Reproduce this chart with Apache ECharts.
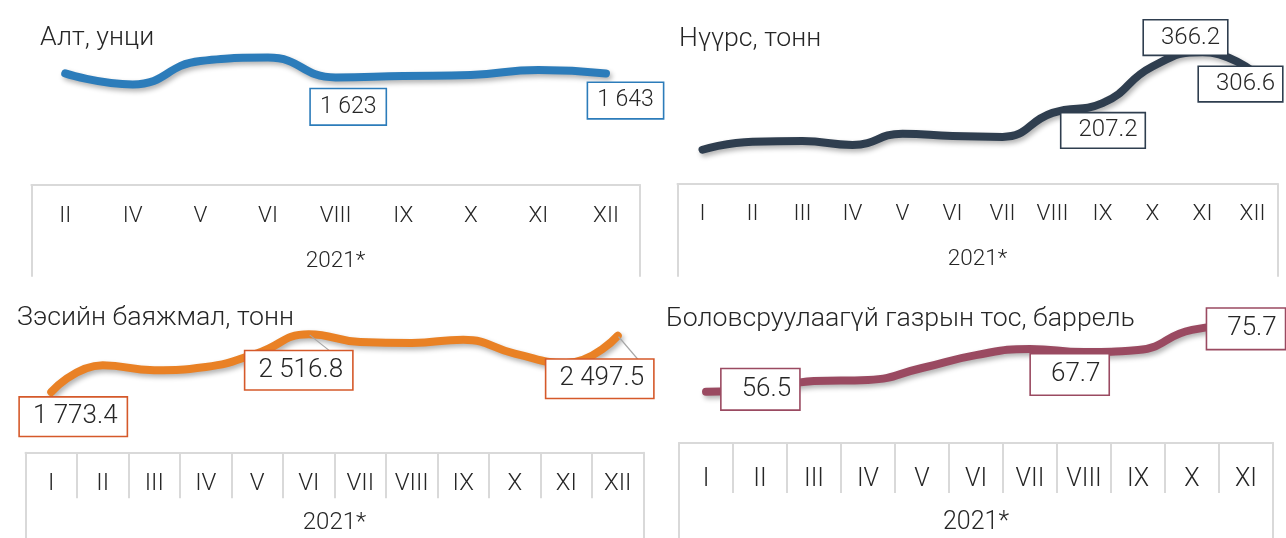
<!DOCTYPE html>
<html>
<head>
<meta charset="utf-8">
<script src="https://cdn.jsdelivr.net/npm/echarts@6/dist/echarts.min.js"></script>
<style>
html,body{margin:0;padding:0;background:#ffffff;}
#chart{width:1286px;height:538px;}
</style>
</head>
<body>
<div id="chart"></div>
<script>
// ---------- DATA ----------
const yearLabel = ['2021*'];

const goldTitle = 'Алт, унци';
const goldCats = ['II', 'IV', 'V', 'VI', 'VIII', 'IX', 'X', 'XI', 'XII'];
const goldValues = [1643, 1588, 1705, 1722, 1623, 1630, 1635, 1660, 1643];
const goldLabeled = [4, 8];

const coalTitle = 'Нүүрс, тонн';
const coalCats = ['I', 'II', 'III', 'IV', 'V', 'VI', 'VII', 'VIII', 'IX', 'X', 'XI', 'XII'];
const coalValues = [62.9, 87.8, 89.6, 77.9, 112.6, 105.2, 102.7, 177.1, 207.2, 321.0, 366.2, 306.6];
const coalLabeled = [8, 10, 11];

const copperTitle = 'Зэсийн баяжмал, тонн';
const copperCats = ['I', 'II', 'III', 'IV', 'V', 'VI', 'VII', 'VIII', 'IX', 'X', 'XI', 'XII'];
const copperValues = [1773.4, 2117.5, 2053.0, 2095.6, 2272.0, 2516.8, 2417.6, 2404.7, 2446.0, 2268.2, 2147.1, 2497.5];
const copperLabeled = [0, 5, 11];

const oilTitle = 'Боловсруулаагүй газрын тос, баррель';
const oilCats = ['I', 'II', 'III', 'IV', 'V', 'VI', 'VII', 'VIII', 'IX', 'X', 'XI'];
const oilValues = [56.0, 56.5, 59.2, 59.5, 63.0, 66.8, 68.6, 67.7, 68.3, 74.2, 75.7];
const oilLabeled = [1, 7, 10];

// ---------- STYLE / LAYOUT ----------
const FONT = 'Roboto';
const TEXT = '#262626';
const BOXLINE = '#d9d9d9';

const panels = [
  { title: goldTitle, cats: goldCats, values: goldValues, labeled: goldLabeled, decimals: 0,
    s: { color: '#2c7cba', border: '#2c7cba', titleLeft: 40, titleTop: 23.5,
         boxLeft: 31.4, boxWidth: 608.4, boxTop: 185, boxBottom: 276, sepLen: 0,
         catMargin: 31.5, yearMargin: 14.5, catFont: 22.5,
         lineTop: 42, lineHeight: 60, yMin: 1500, yMax: 1800,
         labelFont: 23, labelPad: [6, 9, 6, 9], guide: {},
         offsets: { 4: [12.6, 29.4], 8: [19.5, 27.2] } } },
  { title: coalTitle, cats: coalCats, values: coalValues, labeled: coalLabeled, decimals: 1,
    s: { color: '#2f3e4f', border: '#2f3e4f', titleLeft: 679, titleTop: 24,
         boxLeft: 677.5, boxWidth: 600, boxTop: 184, boxBottom: 276, sepLen: 0,
         catMargin: 30.8, yearMargin: 16.2, catFont: 22.5,
         lineTop: 41, lineHeight: 129, yMin: 0, yMax: 400,
         labelFont: 24, labelPad: [5, 7, 5, 17], guide: {},
         offsets: { 8: [0.5, 27.2], 10: [-17, -14.3], 11: [-12, 13] } } },
  { title: copperTitle, cats: copperCats, values: copperValues, labeled: copperLabeled, decimals: 1,
    s: { color: '#e98125', border: '#d5592a', titleLeft: 17, titleTop: 303.6,
         boxLeft: 25.5, boxWidth: 618, boxTop: 452.7, boxBottom: 545, sepLen: 45.6,
         catMargin: 30.8, yearMargin: 15.5, catFont: 24,
         lineTop: 320, lineHeight: 93.2, yMin: 1500, yMax: 2700,
         labelFont: 26, labelPad: [6, 9, 6, 13], guide: { 5: true, 11: true },
         offsets: { 0: [22, 24.7], 5: [-10, 36], 11: [-18, 43] } } },
  { title: oilTitle, cats: oilCats, values: oilValues, labeled: oilLabeled, decimals: 1,
    s: { color: '#9a4a61', border: '#9a4a61', titleLeft: 666, titleTop: 304,
         boxLeft: 679, boxWidth: 594, boxTop: 443, boxBottom: 545, sepLen: 50,
         catMargin: 36.5, yearMargin: 15.5, catFont: 25,
         lineTop: 310.2, lineHeight: 136, yMin: 40, yMax: 80,
         labelFont: 26, labelPad: [7, 8, 7, 20], guide: {},
         offsets: { 1: [0.4, -0.8], 7: [-14.3, 22.5], 10: [0, 4] } } }
];

function fmtNum(v, d) {
  const parts = v.toFixed(d).split('.');
  const g = parts[0].replace(/\B(?=(\d{3})+(?!\d))/g, ' ');
  return parts.length > 1 ? g + '.' + parts[1] : g;
}

const option = {
  backgroundColor: '#ffffff',
  animation: false,
  title: [], grid: [], xAxis: [], yAxis: [], series: []
};

panels.forEach((p) => {
  const s = p.s;
  option.title.push({
    text: p.title, left: s.titleLeft, top: s.titleTop, padding: 0,
    textStyle: { fontFamily: FONT, fontWeight: 300, fontSize: 26.7, lineHeight: 30, color: TEXT }
  });
  const gl = option.grid.length;
  option.grid.push({ left: s.boxLeft, width: s.boxWidth, top: s.lineTop, height: s.lineHeight, show: false });
  option.grid.push({ left: s.boxLeft, width: s.boxWidth, top: s.boxTop, height: s.boxBottom - s.boxTop, show: false });

  const xl = option.xAxis.length;
  option.xAxis.push({ type: 'category', gridIndex: gl, data: p.cats, boundaryGap: true, show: false });
  option.xAxis.push({
    type: 'category', gridIndex: gl + 1, data: p.cats, position: 'top', boundaryGap: true,
    axisLine: { show: true, onZero: false, lineStyle: { color: BOXLINE, width: 2 } },
    axisTick: { show: s.sepLen > 0, inside: true, length: s.sepLen, interval: 0,
                lineStyle: { color: BOXLINE, width: 2 } },
    axisLabel: { inside: true, interval: 0, margin: s.catMargin, verticalAlign: 'middle',
                 fontFamily: FONT, fontWeight: 300, fontSize: s.catFont, color: TEXT },
    splitLine: { show: false }
  });
  option.xAxis.push({
    type: 'category', gridIndex: gl + 1, data: yearLabel, position: 'bottom', boundaryGap: true,
    axisLine: { show: false, onZero: false }, axisTick: { show: false },
    axisLabel: { inside: true, margin: s.yearMargin, verticalAlign: 'middle',
                 fontFamily: FONT, fontWeight: 300, fontSize: s.catFont, color: TEXT },
    splitLine: { show: false }
  });

  const yl = option.yAxis.length;
  option.yAxis.push({ type: 'value', gridIndex: gl, min: s.yMin, max: s.yMax, show: false });
  const boxSide = (pos) => ({
    type: 'value', gridIndex: gl + 1, min: 0, max: 1, position: pos,
    axisLine: { show: true, onZero: false, lineStyle: { color: BOXLINE, width: 2 } },
    axisTick: { show: false }, axisLabel: { show: false }, splitLine: { show: false }
  });
  option.yAxis.push(boxSide('left'));
  option.yAxis.push(boxSide('right'));

  option.series.push({
    type: 'line', xAxisIndex: xl, yAxisIndex: yl, smooth: 0.5,
    symbol: 'circle', symbolSize: 2, showSymbol: true,
    itemStyle: { color: s.color },
    lineStyle: { color: s.color, width: 8, cap: 'round', join: 'round',
                 shadowColor: 'rgba(0,0,0,0.3)', shadowBlur: 5, shadowOffsetX: 2, shadowOffsetY: 3 },
    emphasis: { disabled: true },
    label: {
      show: false, position: 'inside',
      formatter: (prm) => fmtNum(prm.value, p.decimals),
      fontFamily: FONT, fontWeight: 300, fontSize: s.labelFont, lineHeight: s.labelFont,
      color: TEXT, backgroundColor: '#ffffff', borderColor: s.border, borderWidth: 1.6,
      padding: s.labelPad
    },
    labelLine: { show: false, lineStyle: { color: '#a6a6a6', width: 1.2 } },
    data: p.values.map((v, i) => p.labeled.indexOf(i) >= 0
      ? { value: v, label: { show: true, offset: s.offsets[i] }, labelLine: { show: !!s.guide[i] } }
      : { value: v })
  });
});

const chart = echarts.init(document.getElementById('chart'), null, { renderer: 'canvas' });
chart.setOption(option);
</script>
</body>
</html>
